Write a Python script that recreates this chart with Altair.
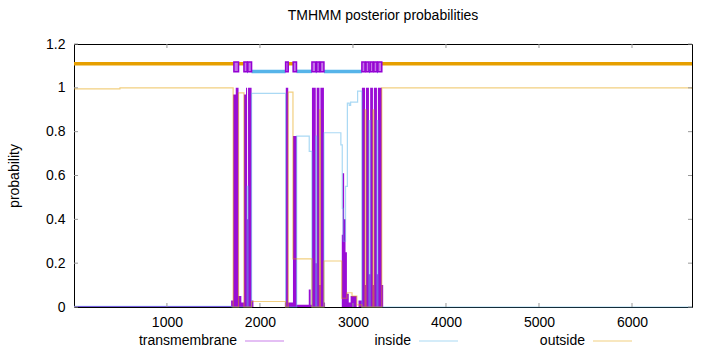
import altair as alt
import pandas as pd

FONT = "Liberation Sans"
seq_len = 6645
x_ticks = [1000, 2000, 3000, 4000, 5000, 6000]
y_ticks = [0, 0.2, 0.4, 0.6, 0.8, 1.0, 1.2]

# predicted topology (top band)
topo_type = ["outside", "TM", "outside", "TM", "inside", "TM", "inside", "TM", "outside", "TM",
             "inside", "TM", "inside", "TM", "outside", "TM", "inside", "TM", "outside", "TM",
             "inside", "TM", "outside", "TM", "inside", "TM", "outside"]
topo_start = [1, 1720, 1770, 1828, 1862, 1870, 1910, 2276, 2304, 2357,
              2393, 2559, 2600, 2610, 2640, 2650, 2688, 3096, 3130, 3140,
              3172, 3185, 3215, 3225, 3258, 3268, 3310]
topo_end = [1720, 1770, 1828, 1862, 1870, 1910, 2276, 2304, 2357, 2393,
            2559, 2600, 2610, 2640, 2650, 2688, 3096, 3130, 3140, 3172,
            3185, 3215, 3225, 3258, 3268, 3310, 6645]

# posterior probabilities (breakpoints)
tm_pos = [1, 1690, 1712, 1740, 1770, 1800, 1828, 1850, 1862, 1872, 1910, 1930, 2268, 2278, 2304,
          2355, 2395, 2525, 2545, 2559, 2600, 2610, 2640, 2650, 2688, 2700, 2880, 2890, 2905,
          2920, 2935, 2955, 2975, 3040, 3060, 3096, 3130, 3140, 3172, 3185, 3215, 3225, 3258,
          3268, 3310, 3325, 6645]
tm_val = [0.004, 0.03, 0.97, 1.0, 0.05, 0.02, 0.97, 1.0, 0.4, 1.0, 0.03, 0.0, 0.02, 1.0, 0.02,
          0.78, 0.01, 0.08, 0.01, 1.0, 0.2, 1.0, 0.1, 1.0, 0.02, 0.0, 0.33, 0.61, 0.4,
          0.25, 0.06, 0.02, 0.05, 0.0, 0.03, 1.0, 0.1, 1.0, 0.15, 1.0, 0.1, 1.0, 0.15,
          1.0, 0.1, 0.0, 0.0]

in_pos = [1, 1700, 1862, 1872, 1910, 2276, 2395, 2530, 2559, 2600, 2610, 2688, 2870, 2885,
          2895, 2920, 2940, 2960, 2975, 3050, 3096, 3172, 3185, 3258, 3268, 6645]
in_val = [0.003, 0.0, 0.55, 0.0, 0.975, 0.0, 0.78, 0.71, 0.0, 0.78, 0.0, 0.795, 0.74, 0.45,
          0.3, 0.55, 0.93, 0.92, 0.935, 0.985, 0.0, 0.85, 0.0, 0.85, 0.0, 0.0]

out_pos = [1, 495, 1712, 1770, 1828, 1910, 2276, 2304, 2355, 2559, 2640, 2650, 2688, 2880,
           2935, 2990, 3042, 3096, 3130, 3140, 3215, 3225, 3310, 6640, 6645]
out_val = [0.995, 1.0, 0.0, 0.977, 0.0, 0.025, 0.0, 0.98, 0.22, 0.0, 0.9, 0.0, 0.21, 0.04,
           0.065, 0.05, 0.01, 0.0, 0.9, 0.0, 0.9, 0.0, 1.0, 0.998, 0.998]

legend_labels = ["transmembrane", "inside", "outside"]

W, H = 618, 263
PURPLE, BLUE, ORANGE = "#9400D3", "#56B4E9", "#E69F00"

topo = pd.DataFrame({"type": topo_type, "start": topo_start, "end": topo_end})
tm = pd.DataFrame({"pos": tm_pos, "val": tm_val})
ins = pd.DataFrame({"pos": in_pos, "val": in_val})
outs = pd.DataFrame({"pos": out_pos, "val": out_val})

xs = alt.Scale(domain=[1, seq_len], nice=False, zero=False)
ys = alt.Scale(domain=[0, 1.2], nice=False)
x_axis = alt.Axis(values=x_ticks, ticks=False, domain=False, grid=False, labelFont=FONT,
                  labelFontSize=14, labelColor="#000", labelPadding=8, title=None, format="d")
y_axis = alt.Axis(values=y_ticks, ticks=False, domain=False, grid=False, labelFont=FONT,
                  labelFontSize=14, labelColor="#000", labelPadding=9, title="probability",
                  titleFont=FONT, titleFontSize=14, titleFontWeight="normal", titleColor="#000",
                  titlePadding=24,
                  labelExpr="datum.value == 0 ? '0' : datum.value == 1 ? '1' : format(datum.value, '.1f')")

X = alt.X("pos:Q", scale=xs, axis=x_axis)
Y = alt.Y("val:Q", scale=ys, axis=y_axis)

tm_area = alt.Chart(tm).mark_area(color=PURPLE, opacity=0.95, interpolate="step-after").encode(x=X, y=Y)
in_line = alt.Chart(ins).mark_line(color=BLUE, opacity=0.5, strokeWidth=1.2, interpolate="step-after").encode(x=X, y=Y)
out_line = alt.Chart(outs).mark_line(color=ORANGE, opacity=0.5, strokeWidth=1.2, interpolate="step-after").encode(x=X, y=Y)

XS = alt.X("start:Q", scale=xs, axis=x_axis)
band_out = alt.Chart(topo).transform_filter("datum.type == 'outside'").mark_rule(
    color=ORANGE, strokeWidth=3.5).encode(x=XS, x2="end:Q", y=alt.datum(1.11))
band_in = alt.Chart(topo).transform_filter("datum.type == 'inside'").mark_rule(
    color=BLUE, strokeWidth=3.5).encode(x=XS, x2="end:Q", y=alt.datum(1.075))
band_tm = alt.Chart(topo).transform_filter("datum.type == 'TM'").mark_rect(
    fill=PURPLE, fillOpacity=0.55, stroke=PURPLE, strokeWidth=1.5).encode(
    x=XS, x2="end:Q", y=alt.datum(1.073), y2=alt.datum(1.118))

# inward ticks (gnuplot style)
xt = pd.DataFrame({"pos": x_ticks})
yt = pd.DataFrame({"val": y_ticks})
tick_col = "#999"
xt_b = alt.Chart(xt).mark_rule(color=tick_col).encode(x=X, y=alt.value(H), y2=alt.value(H - 4))
xt_t = alt.Chart(xt).mark_rule(color=tick_col).encode(x=X, y=alt.value(0), y2=alt.value(4))
yt_l = alt.Chart(yt).mark_rule(color=tick_col).encode(y=Y, x=alt.value(0), x2=alt.value(4))
yt_r = alt.Chart(yt).mark_rule(color=tick_col).encode(y=Y, x=alt.value(W), x2=alt.value(W - 4))

# legend (gnuplot style: label then line sample)
leg_y = 297
leg_cols = [PURPLE, BLUE, ORANGE]
leg_end = [210, 384, 558]
leg_layers = []
for lab, col, xe in zip(legend_labels, leg_cols, leg_end):
    d = pd.DataFrame({"label": [lab]})
    leg_layers.append(alt.Chart(d).mark_rule(color=col, opacity=0.5, strokeWidth=1.2).encode(
        x=alt.value(xe - 39), x2=alt.value(xe), y=alt.value(leg_y)))
    leg_layers.append(alt.Chart(d).mark_text(align="right", baseline="middle", font=FONT,
                                              fontSize=14, color="#000").encode(
        text="label:N", x=alt.value(xe - 47), y=alt.value(leg_y)))

chart = alt.layer(
    tm_area, in_line, out_line, band_out, band_in, band_tm, xt_b, xt_t, yt_l, yt_r, *leg_layers
).properties(
    width=W, height=H,
    title=alt.TitleParams("TMHMM posterior probabilities", font=FONT, fontSize=14,
                          fontWeight="normal", color="#000", anchor="middle", offset=14),
    padding={"left": 74, "top": 44, "right": 28, "bottom": 45},
    autosize=alt.AutoSizeParams(type="none"),
).configure_view(stroke="#000", strokeWidth=1)

chart.save("out.html", embed_options={"renderer": "svg", "actions": False})
